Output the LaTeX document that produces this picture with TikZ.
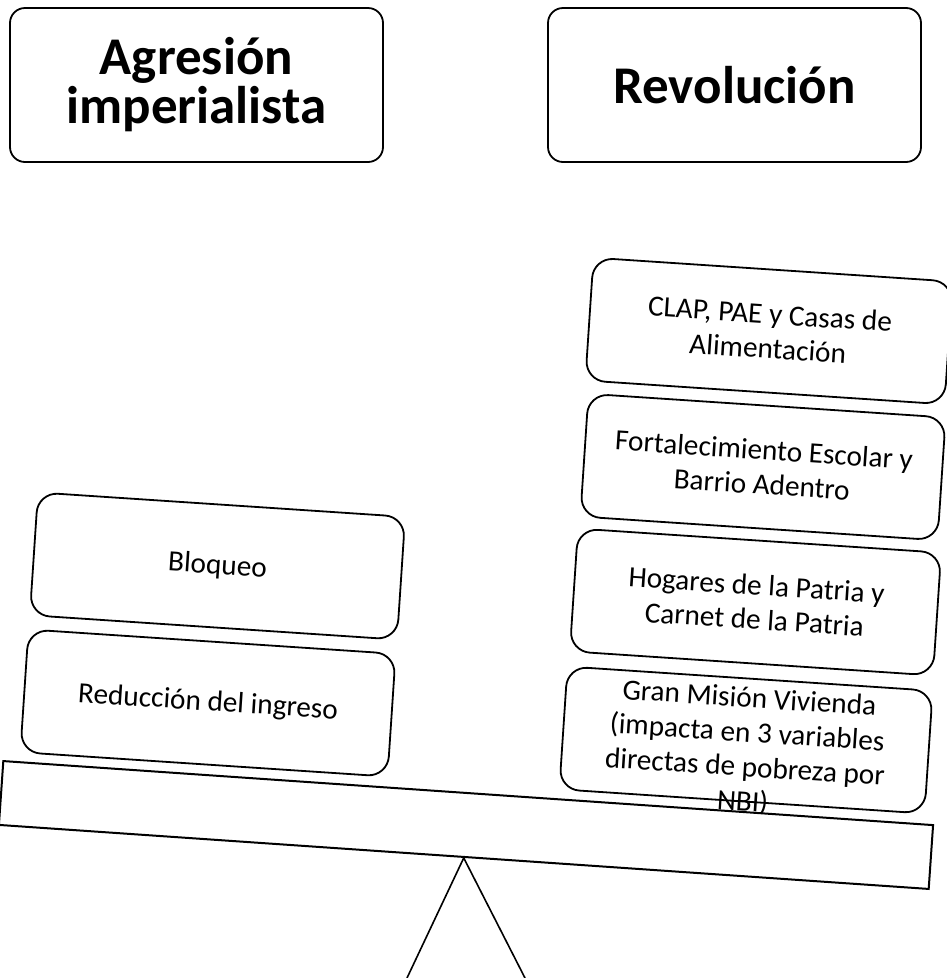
\documentclass[tikz,border=0pt]{standalone}
\usepackage{fontspec}
\setmainfont{Carlito}
\usetikzlibrary{positioning,calc}
\newcommand{\TitleFont}{\fontsize{53}{49}\selectfont\bfseries}
\newcommand{\ItemFont}{\fontsize{29.3}{34.5}\selectfont}

\begin{document}
\begin{tikzpicture}[x=1pt,y=1pt,
  titlebox/.style={draw,line width=1.8pt,rounded corners=15pt,fill=white,minimum width=373pt,minimum height=154pt,align=center,font=\TitleFont},
  itembox/.style={draw,line width=1.8pt,rounded corners=20pt,fill=white,minimum width=366pt,minimum height=123pt,inner ysep=0pt,align=center,rotate=-3.8,font=\ItemFont},
  itemtext/.style={align=center,rotate=-3.8,font=\ItemFont},
  beam/.style={draw,line width=2pt,fill=white,minimum width=932pt,minimum height=64pt,inner sep=0pt,rotate=-3.94}]
  \useasboundingbox (0,0) rectangle (946,-978);
  % titles
  \node[titlebox] (agresion) at (196.5,-85) {Agresión\\imperialista};
  \node[titlebox] (revolucion) at (734.5,-85) {Revolución};
  % left pan
  \node[itembox,minimum width=368pt] (bloqueo) at (217.5,-566) {Bloqueo};
  \node[itembox,minimum width=368pt] (reduccion) at (208,-703) {Reducción del ingreso};
  % right pan
  \node[itembox,minimum width=360pt] (clap) at (769,-331) {CLAP, PAE y Casas de\\Alimentación};
  \node[itembox,minimum width=358pt] (escolar) at (763,-467) {Fortalecimiento Escolar y\\Barrio Adentro};
  \node[itembox,minimum width=364pt] (hogares) at (755.5,-602) {Hogares de la Patria y\\Carnet de la Patria};
  \node[itembox,minimum width=366pt] (vivienda) at (746,-740) {};
  \node[itemtext] at ([yshift=-11pt]vivienda.center) {Gran Misión Vivienda\\(impacta en 3 variables\\directas de pobreza por\\NBI)};
  % balance
  \node[beam] (beam) at (466,-825) {};
  \coordinate (baseL) at (407,-978);
  \coordinate (baseR) at (525,-978);
  \draw[line width=1.6pt,line join=miter] (baseL) -- (beam.south) -- (baseR);
\end{tikzpicture}
\end{document}
